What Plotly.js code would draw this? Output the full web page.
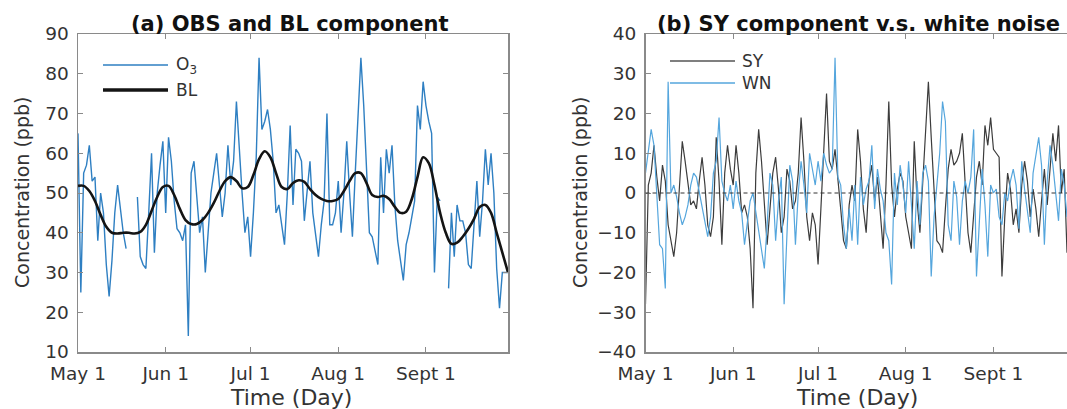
<!DOCTYPE html>
<html>
<head>
<meta charset="utf-8">
<script src="https://cdn.plot.ly/plotly-3.0.1.min.js"></script>
<style>
  html, body { margin: 0; padding: 0; background: #ffffff; }
  #chart { width: 1067px; height: 409px; }
</style>
</head>
<body>
<div id="chart"></div>
<script>
// ---------- data ----------
// day index 0 = May 1
const monthTickDays = [0, 31, 61, 92, 123];
const monthTickLabels = ['May 1', 'Jun 1', 'Jul 1', 'Aug 1', 'Sept 1'];

// (a) observed O3, daily (null = missing)
const o3Values = [
  65, 25, 55, 57, 62, 53, 54, 38, 50, 45,
  32, 24, 33, 45, 52, 46, 40, 36, null, null,
  null, 49, 34, 32, 31, 45, 60, 35, 50, 57,
  63, 45, 64, 58, 48, 41, 40, 38, 42, 14,
  55, 58, 48, 40, 44, 30, 40, 50, 55, 60,
  52, 44, 50, 62, 52, 58, 73, 60, 50, 40,
  44, 34, 45, 59, 84, 66, 68, 71, 66, 58,
  45, 47, 42, 37, 50, 67, 47, 61, 60, 58,
  43, 50, 58, 45, 40, 34, 42, 48, 70, 42,
  42, 45, 53, 40, 50, 63, 50, 39, 55, 70,
  84, 72, 55, 40, 39, 35, 32, 59, 45, 61,
  55, 62, 47, 38, 33, 28, 37, 40, 44, 48,
  72, 66, 78, 72, 68, 65, 30, 49, 48, null,
  null, 26, 45, 34, 47, 43, 43, 40, 32, 31,
  42, 53, 39, 48, 61, 52, 60, 50, 31, 21,
  30, 30, 30
];

// (a) baseline component, read every second day
const blValues = [
  51.8, 51.8, 50.5, 48, 44.5, 41.5, 40, 39.8, 40, 40,
  39.8, 40.2, 42, 45.5, 49, 51.5, 51.8, 49.5, 46, 43.2,
  42.2, 42.2, 43.2, 45, 47.5, 50.5, 53, 54, 53, 51.2,
  51.5, 54.5, 58.5, 60.5, 59, 55, 51.5, 51, 52.5, 53.2,
  52.8, 51, 49.5, 48.5, 48, 48, 48.5, 50.5, 53, 55,
  55, 52.5, 49.5, 49, 49.3, 48.5, 46.5, 45, 45.3, 48.5,
  54, 59, 57.5, 52, 45, 40, 37.2, 37.5, 39, 41,
  43.5, 46.5, 47, 45, 40, 35, 30
];
const blStep = 2;

// (b) synoptic component, daily
const syValues = [
  -28, 2, 5, 12, 4, -2, 7, 3, -8, -12,
  -16, -10, 2, 13, 8, 2, -3, -2, -4, 3,
  9, 2, -8, -11, -6, 14, 3, -13, 5, 12,
  6, 2, 12, 5, -5, -3, -6, -14, -29, 5,
  16, 8, -2, -13, -4, 5, 9, 1, -10, -6,
  6, 3, -4, -2, 5, 19, 8, -6, -12, -5,
  -8, -18, -4, 10, 25, 8, 6, 11, 4, -4,
  -12, -14, -3, 2, -2, 16, 8, -4, -10, 3,
  7, -2, 4, -5, -14, 2, 23, 2, -6, 1,
  5, 3, -6, -10, -14, 13, -2, -10, 3, 14,
  28, 14, 2, -12, -13, -15, -4, 6, 11, 7,
  8, 10, 15, 2, -10, -15, -6, 4, 8, 2,
  17, 12, 19, 11, 10, 9, -21, -6, 5, 1,
  -8, -4, -10, 2, 8, 3, -6, 1, -4, -11,
  -2, 6, -3, 5, 15, 8, 17, 0, 6, -15,
  -10, -5, -12
];

// (b) white noise, daily
const wnValues = [
  5, 10, 16, 12, 0, -13, -14, -24, 28, 0,
  2, -1, -5, -8, -6, -3, 2, 5, 4, 0,
  -3, -8, -11, -6, 5, 8, 19, 3, 0, -2,
  2, -4, 3, -2, -5, -13, -8, -2, 0, -5,
  -10, -15, -19, -8, 5, 2, -12, -2, 4, -28,
  -8, 7, 3, -13, 0, 8, 2, -5, 10, 6,
  2, 8, 3, 10, 7, 5, 6, 34, 4, 2,
  -8, -14, -4, -12, 2, -13, 4, -3, 1, 3,
  12, -4, 6, 1, -2, -10, -12, -23, 5, -3,
  7, 2, -5, 8, -2, -14, 3, -8, 5, 7,
  3, -21, -6, 2, 10, 23, 18, -8, -12, 3,
  -1, -13, -2, 3, 0, 4, 16, -21, -8, 6,
  -3, -16, 2, 0, 1, -6, -8, 0, -2, 3,
  6, 2, -9, 8, 1, -4, -10, 5, 9, 14,
  7, -13, 3, 12, 7, 0, -7, 6, 2, -6,
  4, 2, -3
];

const leftYTicks = [10, 20, 30, 40, 50, 60, 70, 80, 90];
const rightYTicks = [-40, -30, -20, -10, 0, 10, 20, 30, 40];

// ---------- build ----------
const dayIdx = o3Values.map((_, i) => i);
const blDays = blValues.map((_, i) => i * blStep);

const W = 1067, H = 409;
const px = v => v / W;
const py = v => 1 - v / H;

const FONT = 'DejaVu Sans, Liberation Sans, Arial, sans-serif';
const AXC = '#8a8a8a';
const TXT = '#333333';

const cO3 = '#2e7fc2';
const cBL = '#141414';
const cSY = '#3c3c3c';
const cWN = '#55a6dd';

const traces = [
  { x: dayIdx, y: o3Values, xaxis: 'x', yaxis: 'y', type: 'scatter', mode: 'lines',
    name: 'O3', line: { color: cO3, width: 1.4 }, connectgaps: false, showlegend: false },
  { x: blDays, y: blValues, xaxis: 'x', yaxis: 'y', type: 'scatter', mode: 'lines',
    name: 'BL', line: { color: cBL, width: 2.6, shape: 'spline', smoothing: 1 }, showlegend: false },
  { x: dayIdx, y: syValues, xaxis: 'x2', yaxis: 'y2', type: 'scatter', mode: 'lines',
    name: 'SY', line: { color: cSY, width: 1.2 }, showlegend: false },
  { x: dayIdx, y: wnValues, xaxis: 'x2', yaxis: 'y2', type: 'scatter', mode: 'lines',
    name: 'WN', line: { color: cWN, width: 1.2 }, showlegend: false }
];

const pxPerDay = 430 / 152;
const leftDom = [px(78), px(508)];
const rightDom = [px(645.5), 1];
const yDom = [py(352), py(34)];

const axisCommon = {
  showgrid: false, zeroline: false, showline: true, linecolor: AXC, linewidth: 1.5,
  ticks: 'inside', ticklen: 5, tickwidth: 1, tickcolor: AXC,
  tickfont: { family: FONT, size: 18.5, color: TXT }, automargin: false,
  ticklabelstandoff: 4
};

const layout = {
  width: W, height: H,
  margin: { l: 0, r: 0, t: 0, b: 0 },
  paper_bgcolor: '#ffffff', plot_bgcolor: '#ffffff',
  showlegend: false,
  xaxis: Object.assign({}, axisCommon, {
    domain: leftDom, anchor: 'y', range: [0, 152], mirror: 'ticks',
    tickmode: 'array', tickvals: monthTickDays, ticktext: monthTickLabels
  }),
  yaxis: Object.assign({}, axisCommon, {
    domain: yDom, anchor: 'x', range: [10, 90], mirror: 'ticks',
    tickmode: 'array', tickvals: leftYTicks
  }),
  xaxis2: Object.assign({}, axisCommon, {
    domain: rightDom, anchor: 'y2', range: [0, (W - 645.5) / pxPerDay], mirror: 'ticks',
    tickmode: 'array', tickvals: monthTickDays, ticktext: monthTickLabels
  }),
  yaxis2: Object.assign({}, axisCommon, {
    domain: yDom, anchor: 'x2', range: [-40, 40], mirror: false,
    tickmode: 'array', tickvals: rightYTicks
  }),
  shapes: [
    { type: 'line', xref: 'x2 domain', yref: 'y2', x0: 0, x1: 1, y0: 0, y1: 0,
      line: { color: '#333333', width: 1, dash: '4px,3px' } },
    // legend keys (a)
    { type: 'line', xref: 'paper', yref: 'paper', x0: px(103), x1: px(168), y0: py(65), y1: py(65),
      line: { color: cO3, width: 1.4 } },
    { type: 'line', xref: 'paper', yref: 'paper', x0: px(103), x1: px(168), y0: py(90), y1: py(90),
      line: { color: cBL, width: 3.4 } },
    // legend keys (b)
    { type: 'line', xref: 'paper', yref: 'paper', x0: px(670), x1: px(735), y0: py(61), y1: py(61),
      line: { color: '#555555', width: 1.4 } },
    { type: 'line', xref: 'paper', yref: 'paper', x0: px(670), x1: px(735), y0: py(83), y1: py(83),
      line: { color: cWN, width: 1.4 } }
  ],
  annotations: [
    { text: '<b>(a) OBS and BL component</b>', xref: 'paper', yref: 'paper',
      x: px(290), y: py(38), xanchor: 'center', yanchor: 'bottom', showarrow: false,
      font: { family: FONT, size: 21, color: '#111111' } },
    { text: '<b>(b) SY component v.s. white noise</b>', xref: 'paper', yref: 'paper',
      x: px(858), y: py(38), xanchor: 'center', yanchor: 'bottom', showarrow: false,
      font: { family: FONT, size: 21, color: '#111111' } },
    { text: 'Time (Day)', xref: 'paper', yref: 'paper', x: px(291), y: py(397),
      xanchor: 'center', yanchor: 'middle', showarrow: false,
      font: { family: FONT, size: 22, color: TXT } },
    { text: 'Time (Day)', xref: 'paper', yref: 'paper', x: px(857), y: py(397),
      xanchor: 'center', yanchor: 'middle', showarrow: false,
      font: { family: FONT, size: 22, color: TXT } },
    { text: 'Concentration (ppb)', xref: 'paper', yref: 'paper', x: px(22), y: py(193),
      xanchor: 'center', yanchor: 'middle', textangle: -90, showarrow: false,
      font: { family: FONT, size: 19, color: TXT } },
    { text: 'Concentration (ppb)', xref: 'paper', yref: 'paper', x: px(580), y: py(193),
      xanchor: 'center', yanchor: 'middle', textangle: -90, showarrow: false,
      font: { family: FONT, size: 19, color: TXT } },
    { text: 'O<sub>3</sub>', xref: 'paper', yref: 'paper', x: px(174), y: py(65),
      xanchor: 'left', yanchor: 'middle', showarrow: false,
      font: { family: FONT, size: 17, color: TXT } },
    { text: 'BL', xref: 'paper', yref: 'paper', x: px(174), y: py(90),
      xanchor: 'left', yanchor: 'middle', showarrow: false,
      font: { family: FONT, size: 17, color: TXT } },
    { text: 'SY', xref: 'paper', yref: 'paper', x: px(740), y: py(61),
      xanchor: 'left', yanchor: 'middle', showarrow: false,
      font: { family: FONT, size: 17, color: TXT } },
    { text: 'WN', xref: 'paper', yref: 'paper', x: px(740), y: py(83),
      xanchor: 'left', yanchor: 'middle', showarrow: false,
      font: { family: FONT, size: 17, color: TXT } }
  ]
};

Plotly.newPlot('chart', traces, layout, { staticPlot: true, displayModeBar: false });
</script>
</body>
</html>
